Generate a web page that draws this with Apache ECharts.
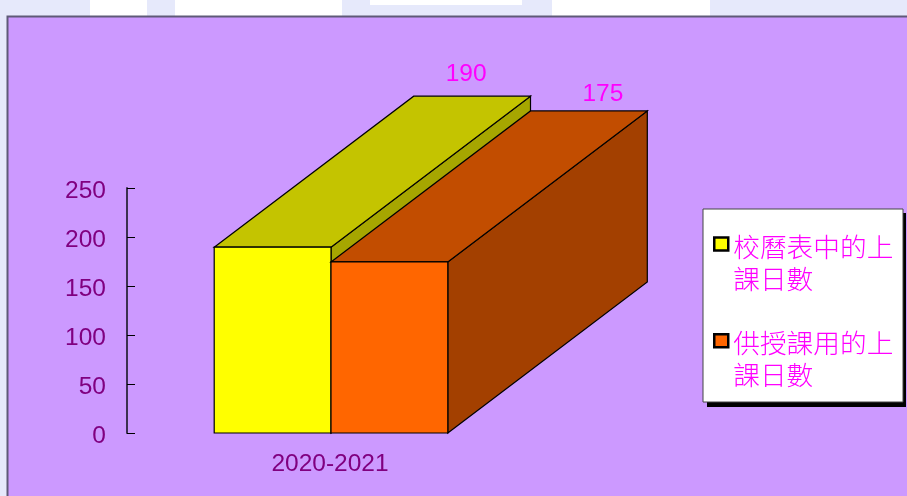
<!DOCTYPE html>
<html><head><meta charset="utf-8">
<style>html,body{margin:0;padding:0;background:#fff;overflow:hidden}#c{width:907px;height:496px}</style>
<script src="https://cdn.jsdelivr.net/npm/echarts@6/dist/echarts.min.js"></script>
</head><body><div id="c"></div>
<script>
const categories = ['2020-2021'];
const seriesNames = ['校曆表中的上課日數', '供授課用的上課日數'];
const schoolCalendarDays = [190];
const teachingDays = [175];
const yTicks = [0, 50, 100, 150, 200, 250];

const FRONT = ['#FFFF00', '#FF6600'];
const TOP = ['#C4C400', '#C24D00'];
const SIDE = ['#A6A600', '#A34000'];
const DEPTH_X = 199.5, DEPTH_Y = 151, BAND_FILL = 233.6 / 408;
const LABEL_SHIFT = [[-6, -22], [14, -17]];

function box3d(idx) {
  return function (params, api) {
    const cat = api.value(0), val = api.value(1);
    const top = api.coord([cat, val]);
    const base = api.coord([cat, 0]);
    const w = api.size([1, 0])[0] * BAND_FILL / 2;
    const x0 = top[0] - w + idx * w, x1 = x0 + w;
    const yT = top[1] + 0.4, yB = base[1];
    const edge = { stroke: '#000', lineWidth: 1.2 };
    const poly = (pts, fill) => ({ type: 'polygon', shape: { points: pts }, style: Object.assign({ fill }, edge) });
    return {
      type: 'group',
      children: [
        poly([[x1, yT], [x1 + DEPTH_X, yT - DEPTH_Y], [x1 + DEPTH_X, yB - DEPTH_Y], [x1, yB]], SIDE[idx]),
        poly([[x0, yT], [x0 + DEPTH_X, yT - DEPTH_Y], [x1 + DEPTH_X, yT - DEPTH_Y], [x1, yT]], TOP[idx]),
        poly([[x0, yT], [x1, yT], [x1, yB], [x0, yB]], FRONT[idx]),
        { type: 'text',
          style: { text: String(val), x: (x0 + x1) / 2 + DEPTH_X + LABEL_SHIFT[idx][0], y: yT - DEPTH_Y + LABEL_SHIFT[idx][1],
                   fill: '#FF00FF', font: '24.5px "Liberation Sans", Arial, sans-serif', align: 'center', verticalAlign: 'middle' } }
      ]
    };
  };
}

const bgPatches = [[0,90],[147,28],[342,210],[710,197]].map(p => ({
  type: 'rect', z: -10, shape: { x: p[0], y: 0, width: p[1], height: 20 }, style: { fill: '#E6E9FB' } }));

const chart = echarts.init(document.getElementById('c'), null, { renderer: 'canvas' });
chart.setOption({
  animation: false,
  backgroundColor: '#fff',
  graphic: { elements: bgPatches.concat([
    { type: 'rect', z: -10, shape: { x: 370, y: 0, width: 152, height: 5 }, style: { fill: '#fff' } },
    { type: 'rect', z: -10, shape: { x: 0, y: 16, width: 10, height: 480 }, style: { fill: '#E6E9FB' } },
    { type: 'rect', z: -9, shape: { x: 7.5, y: 16.5, width: 920, height: 500 }, style: { fill: '#CC99FF', stroke: '#5F5A78', lineWidth: 2 } },
    { type: 'rect', z: -8, shape: { x: 707, y: 213, width: 199, height: 194 }, style: { fill: '#000' } },
    { type: 'rect', z: -7, shape: { x: 703, y: 209, width: 200, height: 193 }, style: { fill: '#fff', stroke: '#444', lineWidth: 1 } }
  ]) },
  grid: { left: 127, top: 188, width: 408, height: 245 },
  xAxis: { type: 'category', data: categories, axisLine: { show: false }, axisTick: { show: false },
    axisLabel: { color: '#800080', fontSize: 24.5, fontFamily: 'Liberation Sans', margin: 19, padding: [0, 2, 0, 0] } },
  yAxis: { type: 'value', min: yTicks[0], max: yTicks[yTicks.length - 1], interval: 50, splitLine: { show: false },
    axisLine: { show: true, lineStyle: { color: '#3C3050', width: 2 } },
    axisTick: { show: true, inside: true, length: 8, lineStyle: { color: '#000', width: 1 } },
    axisLabel: { color: '#800080', fontSize: 24.5, fontFamily: 'Liberation Sans', margin: 21, verticalAlign: 'top', lineHeight: 6 } },
  legend: {
    orient: 'vertical', left: 713, top: 207, padding: 0, itemGap: 12, itemWidth: 14, itemHeight: 13,
    selectedMode: false,
    formatter: n => '{s|\u3000}\n{a|' + n.slice(0, 6) + '}\n{a|' + n.slice(6) + '}',
    textStyle: { color: '#FF00FF', rich: {
      s: { fontSize: 10, lineHeight: 37 },
      a: { color: '#FF00FF', fontSize: 26.7, lineHeight: 32, fontFamily: '"Noto Sans CJK TC"', fontWeight: 300 }
    } },
    data: seriesNames.map((n, i) => ({ name: n, icon: 'rect', itemStyle: { color: FRONT[i], borderColor: '#000', borderWidth: 2.5 } }))
  },
  series: [
    { type: 'custom', name: seriesNames[0], renderItem: box3d(0), encode: { x: 0, y: 1 }, itemStyle: { color: FRONT[0] },
      data: categories.map((c, i) => [i, schoolCalendarDays[i]]) },
    { type: 'custom', name: seriesNames[1], renderItem: box3d(1), encode: { x: 0, y: 1 }, itemStyle: { color: FRONT[1] },
      data: categories.map((c, i) => [i, teachingDays[i]]) }
  ]
});
</script></body></html>
